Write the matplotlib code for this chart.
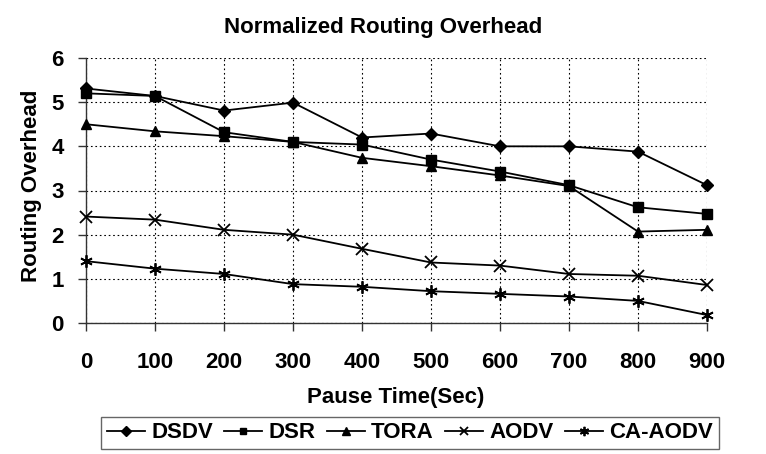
import matplotlib
matplotlib.use("Agg")
import matplotlib.pyplot as plt

plt.rcParams['font.family'] = ['Liberation Sans', 'DejaVu Sans']
plt.rcParams['font.weight'] = 'bold'

# data
pause_time = [0, 100, 200, 300, 400, 500, 600, 700, 800, 900]
dsdv = [5.31, 5.14, 4.81, 4.99, 4.2, 4.29, 4.0, 4.0, 3.88, 3.12]
dsr = [5.2, 5.14, 4.32, 4.1, 4.04, 3.7, 3.43, 3.12, 2.62, 2.47]
tora = [4.5, 4.34, 4.23, 4.1, 3.74, 3.55, 3.34, 3.1, 2.07, 2.11]
aodv = [2.41, 2.34, 2.11, 2.0, 1.68, 1.37, 1.3, 1.11, 1.07, 0.86]
ca_aodv = [1.4, 1.23, 1.11, 0.88, 0.82, 0.72, 0.66, 0.6, 0.5, 0.18]

fs = 16

fig = plt.figure(figsize=(7.66, 4.54), dpi=100)
ax = fig.add_axes([86 / 766, 1 - 323 / 454, (707 - 86) / 766, (323 - 58) / 454])

kw = dict(color='black', linewidth=1.3, clip_on=False, zorder=3)
ax.plot(pause_time, dsdv, marker='D', markersize=6.5, label='DSDV', **kw)
ax.plot(pause_time, dsr, marker='s', markersize=6.5, label='DSR', **kw)
ax.plot(pause_time, tora, marker='^', markersize=7.5, label='TORA', **kw)
ax.plot(pause_time, aodv, marker='x', markersize=8, markeredgewidth=1.3, label='AODV', **kw)
ax.plot(pause_time, ca_aodv, marker=(6, 2, 0), markersize=9, markeredgewidth=1.3,
        label='CA-AODV', **kw)

ax.set_xlim(0, 900)
ax.set_ylim(0, 6)
ax.set_xticks(pause_time)
ax.set_yticks(range(7))

ax.grid(True, color='black', linestyle=(0, (1.5, 2.5)), linewidth=0.8)
for side in ['top', 'right']:
    ax.spines[side].set_visible(False)
for side in ['left', 'bottom']:
    ax.spines[side].set_color('#333333')
    ax.spines[side].set_linewidth(1.0)

ax.tick_params(axis='both', direction='out', length=6, width=1.0, color='#333333',
               labelsize=fs)
ax.tick_params(axis='x', pad=15)
ax.tick_params(axis='y', pad=10)
for lab in ax.get_xticklabels() + ax.get_yticklabels():
    lab.set_fontweight('bold')

fig.text(0.5, 1 - 27 / 454, 'Normalized Routing Overhead', ha='center', va='center',
         fontsize=fs, fontweight='bold')
fig.text(396 / 766, 1 - 398 / 454, 'Pause Time(Sec)', ha='center', va='center',
         fontsize=fs, fontweight='bold')
fig.text(32 / 766, 1 - 186 / 454, 'Routing Overhead', ha='center', va='center',
         rotation=90, fontsize=fs, fontweight='bold')

leg = fig.legend(loc='center', bbox_to_anchor=(410 / 766, 1 - 433 / 454), ncol=5,
                 frameon=True, fancybox=False, edgecolor='#404040', handlelength=1.7,
                 handletextpad=0.3, columnspacing=0.5, borderpad=0.25,
                 prop={'size': fs, 'weight': 'bold'}, markerscale=0.75)
leg.get_frame().set_linewidth(1.0)

fig.savefig('out.png', dpi=100, facecolor='white')
